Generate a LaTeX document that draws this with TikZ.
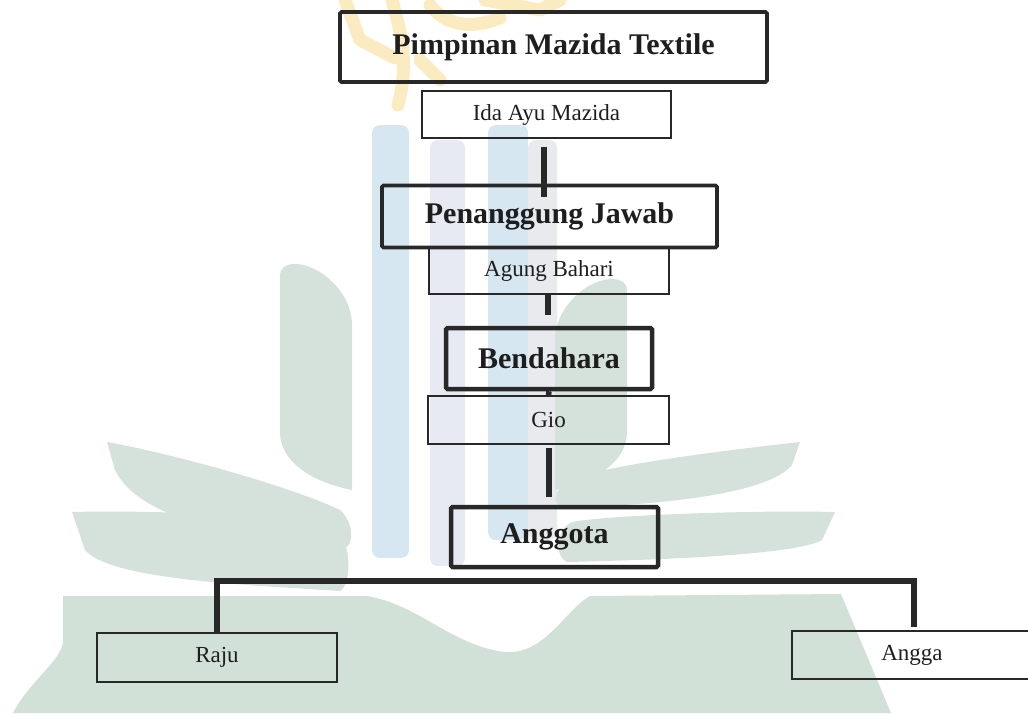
\documentclass[tikz,border=0pt]{standalone}
\usepackage{fontspec}
\setmainfont{Liberation Serif}
\definecolor{wmgreen}{RGB}{209,225,216}
\definecolor{wmleaf}{RGB}{213,226,219}
\definecolor{wmblueA}{RGB}{214,231,241}
\definecolor{wmblueB}{RGB}{231,234,242}
\definecolor{wmgreyC}{RGB}{232,234,238}
\definecolor{wmyellow}{RGB}{250,236,192}
\definecolor{linecol}{RGB}{40,40,40}
\definecolor{txt}{RGB}{30,30,30}
\begin{document}
\begin{tikzpicture}[x=1pt,y=-1pt,
  headbox/.style={draw=linecol, line width=3.8pt, rounded corners=1.5pt, inner sep=0pt,
    font=\fontsize{30}{33}\selectfont\bfseries, text=txt},
  namebox/.style={draw=linecol, line width=1.3pt, inner sep=0pt,
    font=\fontsize{23}{26}\selectfont, text=txt},
  conn/.style={draw=linecol, line width=5.5pt},
  leaf/.style={fill=wmleaf, draw=none}]
\useasboundingbox (0,0) rectangle (1028,713);

% ---------- watermark (background logo) ----------
% bottom band
\fill[wmgreen] (13,713) .. controls (30,680) and (63,660) .. (63,640) -- (63,596)
  -- (367,596) .. controls (420,605) and (450,645) .. (505,652)
  .. controls (545,655) and (565,610) .. (590,596) -- (841,594) -- (891,713) -- cycle;
% pillars
\fill[wmblueA, rounded corners=8pt] (372,125) rectangle (409,558);
\fill[wmblueB, rounded corners=8pt] (430,140) rectangle (465,566);
\fill[wmblueA, rounded corners=8pt] (488,125) rectangle (528,540);
\fill[wmgreyC, rounded corners=8pt] (528,140) rectangle (557,540);
% left leaves
\fill[leaf] (280,275) .. controls (280,262) and (300,260) .. (320,272)
  .. controls (340,285) and (352,305) .. (352,325) -- (352,490)
  .. controls (312,482) and (280,462) .. (280,432) -- cycle;
\fill[leaf] (107,442) .. controls (180,455) and (300,490) .. (340,510)
  .. controls (354,522) and (354,545) .. (345,548)
  .. controls (250,540) and (140,522) .. (115,470) -- cycle;
\fill[leaf] (72,512) .. controls (150,510) and (300,515) .. (335,528)
  .. controls (352,540) and (352,585) .. (340,591)
  .. controls (250,585) and (110,580) .. (85,550) -- cycle;
% right leaves (mirrored)
\begin{scope}[xshift=907pt, xscale=-1]
\fill[leaf] (280,290) .. controls (280,277) and (300,275) .. (320,287)
  .. controls (340,300) and (352,320) .. (352,340) -- (352,490)
  .. controls (312,482) and (280,462) .. (280,432) -- cycle;
\fill[leaf] (107,442) .. controls (180,450) and (300,465) .. (340,480)
  .. controls (354,490) and (354,505) .. (345,508)
  .. controls (250,505) and (140,495) .. (115,465) -- cycle;
\fill[leaf] (72,512) .. controls (150,510) and (300,515) .. (335,522)
  .. controls (352,530) and (352,558) .. (340,562)
  .. controls (250,560) and (110,555) .. (85,540) -- cycle;
\end{scope}
% top calligraphy
\begin{scope}[wmyellow, line width=13pt, line cap=round, line join=round]
\draw (345,0) -- (360,40) -- (395,58);
\draw (392,0) .. controls (400,30) and (410,60) .. (398,105);
\draw (430,5) .. controls (445,25) and (470,30) .. (500,18);
\draw (485,0) -- (540,10) -- (560,0);
\draw (420,60) -- (440,80);
\end{scope}

% ---------- chart ----------
\node[headbox, minimum width=427pt, minimum height=70pt] (pim) at (553.5,47) {Pimpinan Mazida Textile};
\node[namebox, minimum width=249pt, minimum height=47pt] (ida) at (546.5,114.5) {Ida Ayu Mazida};
\node[headbox, minimum width=335pt, minimum height=62pt] (pen) at (549.5,216.5) {Penanggung Jawab};
\node[namebox, minimum width=240pt, minimum height=47pt] (agung) at (549,270.5) {Agung Bahari};
\node[headbox, line width=4.5pt, minimum width=206pt, minimum height=61pt] (bend) at (549,358.5) {Bendahara};
\node[namebox, minimum width=241pt, minimum height=48pt] (gio) at (548.5,420) {Gio};
\node[headbox, line width=4.5pt, minimum width=207pt, minimum height=60pt] (angg) at (554.5,537) {Anggota};
\node[namebox, minimum width=240pt, minimum height=49pt] (raju) at (217,657.5) {Raju};
\node[namebox, minimum width=240pt, minimum height=48pt] (angga) at (912,655) {Angga};

\draw[conn] ([xshift=-2.5pt,yshift=-8pt]ida.south) -- ([xshift=-5.5pt,yshift=-13pt]pen.north);
\draw[conn] ([xshift=-1pt]agung.south) -- ([xshift=-1pt,yshift=11pt]bend.north);
\draw[conn] (bend.south) -- (gio.north);
\draw[conn, line width=6pt] ([xshift=0.5pt,yshift=-3pt]gio.south) -- ([xshift=-5.5pt,yshift=8pt]angg.north);
\coordinate (bus) at ([yshift=-12pt]angg.south);
\draw[conn, line width=6pt] (raju.north) |- (bus) -| ([xshift=2pt,yshift=3pt]angga.north);
\end{tikzpicture}
\end{document}
